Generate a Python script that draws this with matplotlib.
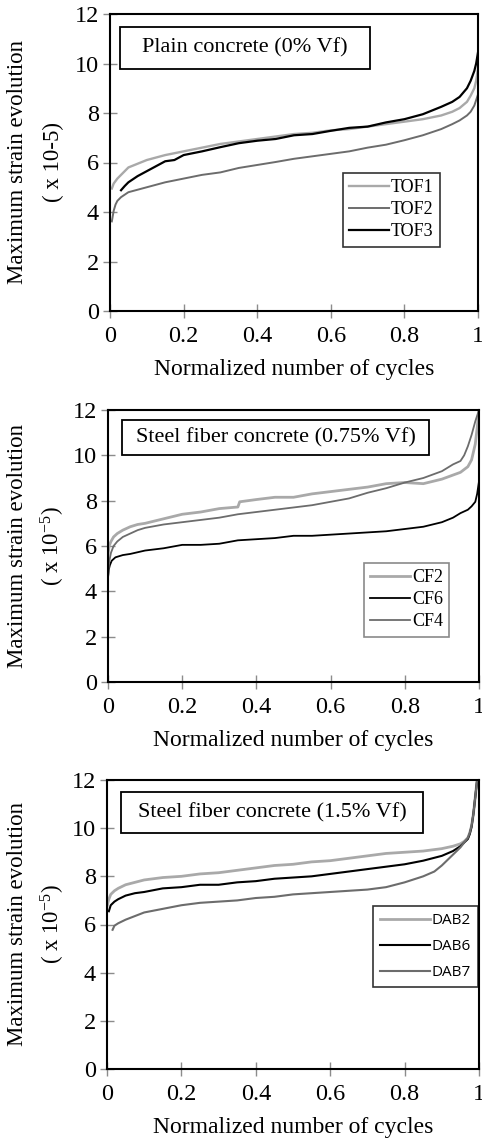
import matplotlib
matplotlib.use("Agg")
import matplotlib.pyplot as plt
from matplotlib.patches import Rectangle

plt.rcParams['font.family'] = ['Liberation Serif', 'DejaVu Serif']
plt.rcParams['mathtext.fontset'] = 'custom'
plt.rcParams['mathtext.rm'] = 'Liberation Serif'

# ---- axis ticks ----
x_ticks = [0, 0.2, 0.4, 0.6, 0.8, 1.0]
x_tick_labels = ["0", "0.2", "0.4", "0.6", "0.8", "1"]
y_ticks = [0, 2, 4, 6, 8, 10, 12]
y_tick_labels = ["0", "2", "4", "6", "8", "10", "12"]

# ---- plain concrete (0% Vf) ----
tof1_x = [0.005, 0.01, 0.02, 0.03, 0.05, 0.075, 0.1, 0.15, 0.2, 0.25, 0.3, 0.35, 0.4, 0.45, 0.5,
          0.55, 0.6, 0.65, 0.7, 0.75, 0.8, 0.85, 0.9, 0.93, 0.95, 0.97, 0.98, 0.99, 0.995, 1.0]
tof1_y = [4.95, 5.15, 5.35, 5.5, 5.8, 5.95, 6.1, 6.3, 6.45, 6.6, 6.75, 6.85, 6.95, 7.05, 7.15,
          7.2, 7.3, 7.35, 7.45, 7.55, 7.65, 7.75, 7.9, 8.05, 8.2, 8.45, 8.7, 9.0, 9.3, 9.8]
tof2_x = [0.005, 0.01, 0.015, 0.02, 0.03, 0.05, 0.075, 0.1, 0.15, 0.2, 0.25, 0.3, 0.35, 0.4, 0.45,
          0.5, 0.55, 0.6, 0.65, 0.7, 0.75, 0.8, 0.85, 0.9, 0.93, 0.95, 0.97, 0.98, 0.99, 1.0]
tof2_y = [3.62, 4.05, 4.3, 4.45, 4.6, 4.8, 4.9, 5.0, 5.2, 5.35, 5.5, 5.6, 5.78, 5.9, 6.02,
          6.15, 6.25, 6.35, 6.45, 6.6, 6.72, 6.9, 7.1, 7.35, 7.55, 7.7, 7.9, 8.05, 8.3, 8.75]
tof3_x = [0.03, 0.04, 0.05, 0.075, 0.1, 0.125, 0.15, 0.175, 0.2, 0.25, 0.3, 0.35, 0.4, 0.45, 0.5,
          0.55, 0.6, 0.65, 0.7, 0.75, 0.8, 0.85, 0.9, 0.93, 0.95, 0.97, 0.98, 0.99, 0.995, 1.0]
tof3_y = [4.88, 5.05, 5.2, 5.45, 5.65, 5.85, 6.05, 6.1, 6.3, 6.45, 6.62, 6.78, 6.88, 6.95, 7.1,
          7.15, 7.28, 7.4, 7.45, 7.62, 7.75, 7.95, 8.25, 8.45, 8.65, 9.0, 9.3, 9.7, 10.0, 10.45]

# ---- steel fiber concrete (0.75% Vf) ----
cf2_x = [0.0, 0.003, 0.008, 0.015, 0.025, 0.04, 0.06, 0.08, 0.1, 0.15, 0.2, 0.25, 0.3, 0.35, 0.355,
         0.4, 0.45, 0.5, 0.55, 0.6, 0.65, 0.7, 0.75, 0.8, 0.85, 0.9, 0.95, 0.97, 0.98, 0.99, 0.995, 1.0]
cf2_y = [5.6, 6.0, 6.2, 6.4, 6.55, 6.7, 6.85, 6.95, 7.0, 7.2, 7.4, 7.5, 7.65, 7.72, 7.95,
         8.05, 8.15, 8.15, 8.3, 8.4, 8.5, 8.6, 8.75, 8.8, 8.75, 8.95, 9.25, 9.5, 9.8, 10.5, 11.2, 12.0]
cf6_x = [0.0, 0.002, 0.005, 0.01, 0.02, 0.04, 0.06, 0.1, 0.15, 0.2, 0.25, 0.3, 0.35, 0.4, 0.45, 0.5,
         0.55, 0.6, 0.65, 0.7, 0.75, 0.8, 0.85, 0.9, 0.93, 0.95, 0.97, 0.98, 0.99, 0.995, 1.0]
cf6_y = [4.6, 4.95, 5.15, 5.35, 5.5, 5.6, 5.65, 5.8, 5.9, 6.05, 6.05, 6.1, 6.25, 6.3, 6.35, 6.45,
         6.45, 6.5, 6.55, 6.6, 6.65, 6.75, 6.85, 7.05, 7.25, 7.45, 7.6, 7.75, 7.95, 8.3, 8.85]
cf4_x = [0.0, 0.003, 0.008, 0.015, 0.025, 0.04, 0.06, 0.08, 0.1, 0.15, 0.2, 0.25, 0.3, 0.35, 0.4,
         0.45, 0.5, 0.55, 0.6, 0.65, 0.7, 0.75, 0.8, 0.85, 0.9, 0.93, 0.95, 0.96, 0.97, 0.98, 0.99, 1.0]
cf4_y = [4.6, 5.3, 5.7, 6.0, 6.2, 6.4, 6.55, 6.7, 6.8, 6.95, 7.05, 7.15, 7.25, 7.4, 7.5,
         7.6, 7.7, 7.8, 7.95, 8.1, 8.35, 8.55, 8.8, 9.0, 9.3, 9.6, 9.75, 10.0, 10.4, 10.9, 11.5, 12.0]

# ---- steel fiber concrete (1.5% Vf) ----
dab2_x = [0.0, 0.005, 0.01, 0.02, 0.03, 0.05, 0.075, 0.1, 0.15, 0.2, 0.25, 0.3, 0.35, 0.4, 0.45, 0.5,
          0.55, 0.6, 0.65, 0.7, 0.75, 0.8, 0.85, 0.9, 0.93, 0.95, 0.96, 0.97, 0.975, 0.98, 0.985, 0.99, 0.995]
dab2_y = [6.75, 7.05, 7.25, 7.4, 7.5, 7.65, 7.75, 7.85, 7.95, 8.0, 8.1, 8.15, 8.25, 8.35, 8.45, 8.5,
          8.6, 8.65, 8.75, 8.85, 8.95, 9.0, 9.05, 9.15, 9.25, 9.35, 9.45, 9.6, 9.8, 10.1, 10.6, 11.3, 12.0]
dab6_x = [0.005, 0.01, 0.02, 0.03, 0.05, 0.075, 0.1, 0.15, 0.2, 0.25, 0.3, 0.35, 0.4, 0.45, 0.5, 0.55,
          0.6, 0.65, 0.7, 0.75, 0.8, 0.85, 0.9, 0.93, 0.95, 0.96, 0.97, 0.975, 0.98, 0.985, 0.99, 0.995]
dab6_y = [6.55, 6.8, 6.95, 7.05, 7.2, 7.3, 7.35, 7.5, 7.55, 7.65, 7.65, 7.75, 7.8, 7.9, 7.95, 8.0,
          8.1, 8.2, 8.3, 8.4, 8.5, 8.65, 8.85, 9.05, 9.25, 9.4, 9.55, 9.75, 10.05, 10.6, 11.3, 12.0]
dab7_x = [0.015, 0.02, 0.03, 0.05, 0.075, 0.1, 0.15, 0.2, 0.25, 0.3, 0.35, 0.4, 0.45, 0.5, 0.55, 0.6,
          0.65, 0.7, 0.75, 0.8, 0.85, 0.88, 0.9, 0.93, 0.95, 0.96, 0.97, 0.975, 0.98, 0.985, 0.99, 0.995]
dab7_y = [5.78, 5.95, 6.05, 6.2, 6.35, 6.5, 6.65, 6.8, 6.9, 6.95, 7.0, 7.1, 7.15, 7.25, 7.3, 7.35,
          7.4, 7.45, 7.55, 7.75, 8.0, 8.2, 8.45, 8.9, 9.2, 9.4, 9.6, 9.8, 10.1, 10.6, 11.3, 12.0]

LIGHT = "#a9a9a9"
MID = "#6c6c6c"
DARK = "#000000"

W, H = 482, 1139
fig = plt.figure(figsize=(W / 100, H / 100), dpi=100)


def px_axes(left, top, right, bottom):
    return fig.add_axes([left / W, 1 - bottom / H, (right - left) / W, (bottom - top) / H])


def style(ax):
    ax.set_xlim(0, 1)
    ax.set_ylim(0, 12)
    ax.set_xticks(x_ticks)
    ax.set_xticklabels(x_tick_labels)
    ax.set_yticks(y_ticks)
    ax.set_yticklabels(y_tick_labels)
    ax.tick_params(direction="inout", length=10, width=1.0, color="#8c8c8c",
                   labelsize=17.5, pad=3)
    ax.tick_params(axis="x", pad=5.5)
    for s in ax.spines.values():
        s.set_linewidth(1.5)
        s.set_color("black")
    ax.set_xlabel("Normalized number of cycles", fontsize=17, labelpad=9)


def title_box(ax, x0, y0, x1, y1, text):
    ax.add_patch(Rectangle((x0, y0), x1 - x0, y1 - y0, transform=ax.transAxes,
                           facecolor="white", edgecolor="black", linewidth=1.3, zorder=5))
    ax.text((x0 + x1) / 2, (y0 + y1) / 2, text, transform=ax.transAxes,
            ha="center", va="center", fontsize=16, zorder=6)


def ylabel(center_y, second):
    fig.text(18 / W, 1 - center_y / H, "Maximum strain evolution", rotation=90,
             ha="center", va="center", fontsize=16.5)
    fig.text(53 / W, 1 - center_y / H, second, rotation=90,
             ha="center", va="center", fontsize=16.5)


# Panel 1
ax1 = px_axes(110, 14, 478, 311)
ax1.plot(tof1_x, tof1_y, color=LIGHT, lw=1.7, label="TOF1")
ax1.plot(tof2_x, tof2_y, color=MID, lw=1.4, label="TOF2")
ax1.plot(tof3_x, tof3_y, color=DARK, lw=1.6, label="TOF3")
style(ax1)
title_box(ax1, 0.027, 0.815, 0.707, 0.957, "Plain concrete (0% Vf)")
leg = ax1.legend(loc="upper left", bbox_to_anchor=(0.633, 0.465), borderaxespad=0,
                 fontsize=13, frameon=True, fancybox=False, handlelength=2.2,
                 handletextpad=0.1, labelspacing=0.28, borderpad=0.35)
leg.get_frame().set_edgecolor("black")
leg.get_frame().set_linewidth(1.2)
ylabel(162, "( x 10-5)")

# Panel 2
ax2 = px_axes(108, 410, 479, 682)
ax2.plot(cf2_x, cf2_y, color=LIGHT, lw=2.0, label="CF2")
ax2.plot(cf6_x, cf6_y, color=DARK, lw=1.3, label="CF6")
ax2.plot(cf4_x, cf4_y, color=MID, lw=1.3, label="CF4")
style(ax2)
title_box(ax2, 0.038, 0.836, 0.865, 0.963, "Steel fiber concrete (0.75% Vf)")
leg = ax2.legend(loc="upper left", bbox_to_anchor=(0.69, 0.4375), borderaxespad=0,
                 fontsize=13, frameon=True, fancybox=False, handlelength=2.2,
                 handletextpad=0.1, labelspacing=0.28, borderpad=0.35)
leg.get_frame().set_edgecolor("#6c6c6c")
leg.get_frame().set_linewidth(1.2)
ylabel(546, r"( x 10$\mathregular{^{-5}}$)")

# Panel 3
ax3 = px_axes(107, 780, 479, 1069)
ax3.plot(dab2_x, dab2_y, color=LIGHT, lw=2.0, label="DAB2")
ax3.plot(dab6_x, dab6_y, color=DARK, lw=1.5, label="DAB6")
ax3.plot(dab7_x, dab7_y, color=MID, lw=1.5, label="DAB7")
style(ax3)
title_box(ax3, 0.038, 0.817, 0.849, 0.958, "Steel fiber concrete (1.5% Vf)")
leg = ax3.legend(loc="upper left", bbox_to_anchor=(0.715, 0.564), borderaxespad=0,
                 prop={"family": "Open Sans", "size": 11}, frameon=True, fancybox=False,
                 handlelength=3.3, handletextpad=0.1, labelspacing=0.72, borderpad=0.45)
leg.get_frame().set_edgecolor("black")
leg.get_frame().set_linewidth(1.2)
ylabel(924, r"( x 10$\mathregular{^{-5}}$)")

fig.savefig("out.png", dpi=100)
